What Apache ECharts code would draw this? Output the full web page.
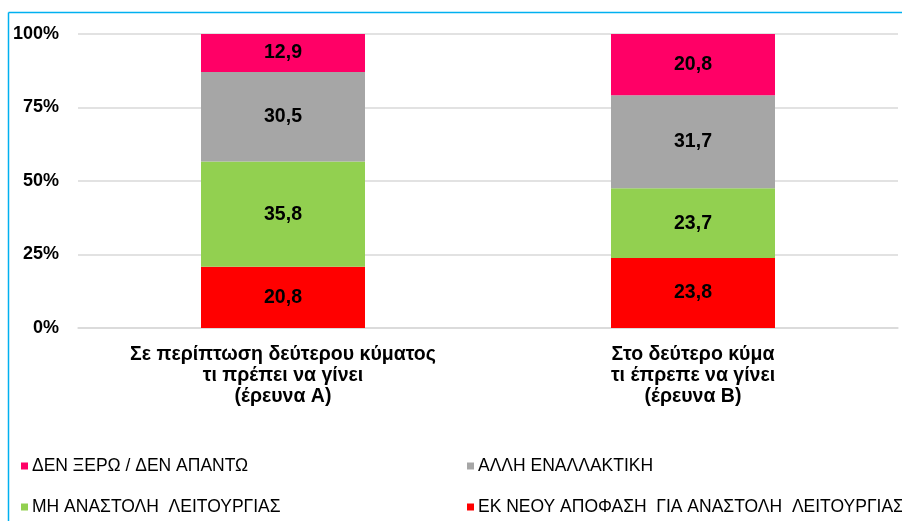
<!DOCTYPE html>
<html>
<head>
<meta charset="utf-8">
<script src="https://cdn.jsdelivr.net/npm/echarts@6/dist/echarts.min.js"></script>
<style>
  html, body { margin: 0; padding: 0; background: #fff; }
  #chart { width: 902px; height: 521px; }
</style>
</head>
<body>
<div id="chart"></div>
<script>
const categories = [
  'Σε περίπτωση δεύτερου κύματος\nτι πρέπει να γίνει\n(έρευνα Α)',
  'Στο δεύτερο κύμα\nτι έπρεπε να γίνει\n(έρευνα Β)'
]
const yTicks = [0, 25, 50, 75, 100]

// stacked bottom -> top
const seriesNames = [
  'ΕΚ ΝΕΟΥ ΑΠΟΦΑΣΗ  ΓΙΑ ΑΝΑΣΤΟΛΗ  ΛΕΙΤΟΥΡΓΙΑΣ',
  'ΜΗ ΑΝΑΣΤΟΛΗ  ΛΕΙΤΟΥΡΓΙΑΣ',
  'ΑΛΛΗ ΕΝΑΛΛΑΚΤΙΚΗ',
  'ΔΕΝ ΞΕΡΩ / ΔΕΝ ΑΠΑΝΤΩ'
]
const newSuspension = [20.8, 23.8]
const noSuspension = [35.8, 23.7]
const otherOption = [30.5, 31.7]
const dontKnow = [12.9, 20.8]

const colors = ['#FF0000', '#92D050', '#A6A6A6', '#FF0066']
const seriesValues = [newSuspension, noSuspension, otherOption, dontKnow]

const chart = echarts.init(document.getElementById('chart'))

// legend spots: two columns, two rows
const legendPos = [
  { left: 467, top: 498 },
  { left: 21, top: 498 },
  { left: 467, top: 457 },
  { left: 21, top: 457 }
]

const font = 'Liberation Sans, Arial, sans-serif'

const option = {
  animation: false,
  textStyle: { fontFamily: font },
  grid: {
    left: 78,
    right: 4,
    top: 34,
    bottom: 193
  },
  legend: seriesNames.map((name, i) => ({
    data: [name],
    left: legendPos[i].left,
    top: legendPos[i].top,
    padding: 0,
    icon: 'rect',
    itemWidth: 7,
    itemHeight: 7,
    itemGap: 5,
    selectedMode: false,
    textStyle: { color: '#000', fontSize: 17.5, fontFamily: font, padding: [0, 0, 0, -1] }
  })),
  graphic: [
    { type: 'line', shape: { x1: 8.5, y1: 12.5, x2: 8.5, y2: 521 }, style: { stroke: '#00B0F0', lineWidth: 1.5 } },
    { type: 'line', shape: { x1: 8.5, y1: 12.5, x2: 902, y2: 12.5 }, style: { stroke: '#00B0F0', lineWidth: 1.5 } }
  ],
  xAxis: {
    type: 'category',
    data: categories,
    axisTick: { show: false },
    axisLine: { lineStyle: { color: '#D9D9D9', width: 1.5 } },
    axisLabel: {
      interval: 0,
      color: '#000',
      fontWeight: 'bold',
      fontSize: 19.5,
      lineHeight: 21,
      margin: 16,
      fontFamily: font
    }
  },
  yAxis: {
    type: 'value',
    min: yTicks[0],
    max: yTicks[yTicks.length - 1],
    interval: 25,
    axisLine: { show: false },
    axisTick: { show: false },
    splitLine: { lineStyle: { color: '#D9D9D9', width: 1.5 } },
    axisLabel: {
      formatter: '{value}%',
      color: '#000',
      fontWeight: 'bold',
      fontSize: 18,
      margin: 19,
      padding: [2, 0, 0, 0],
      fontFamily: font
    }
  },
  series: seriesNames.map((name, i) => ({
    name: name,
    type: 'bar',
    stack: 'total',
    barWidth: '40%',
    data: seriesValues[i],
    itemStyle: { color: colors[i] },
    label: {
      show: true,
      position: 'inside',
      color: '#000',
      fontWeight: 'bold',
      fontSize: 19.5,
      fontFamily: font,
      formatter: (p) => p.value.toFixed(1).replace('.', ',')
    }
  }))
}

chart.setOption(option)
</script>
</body>
</html>
